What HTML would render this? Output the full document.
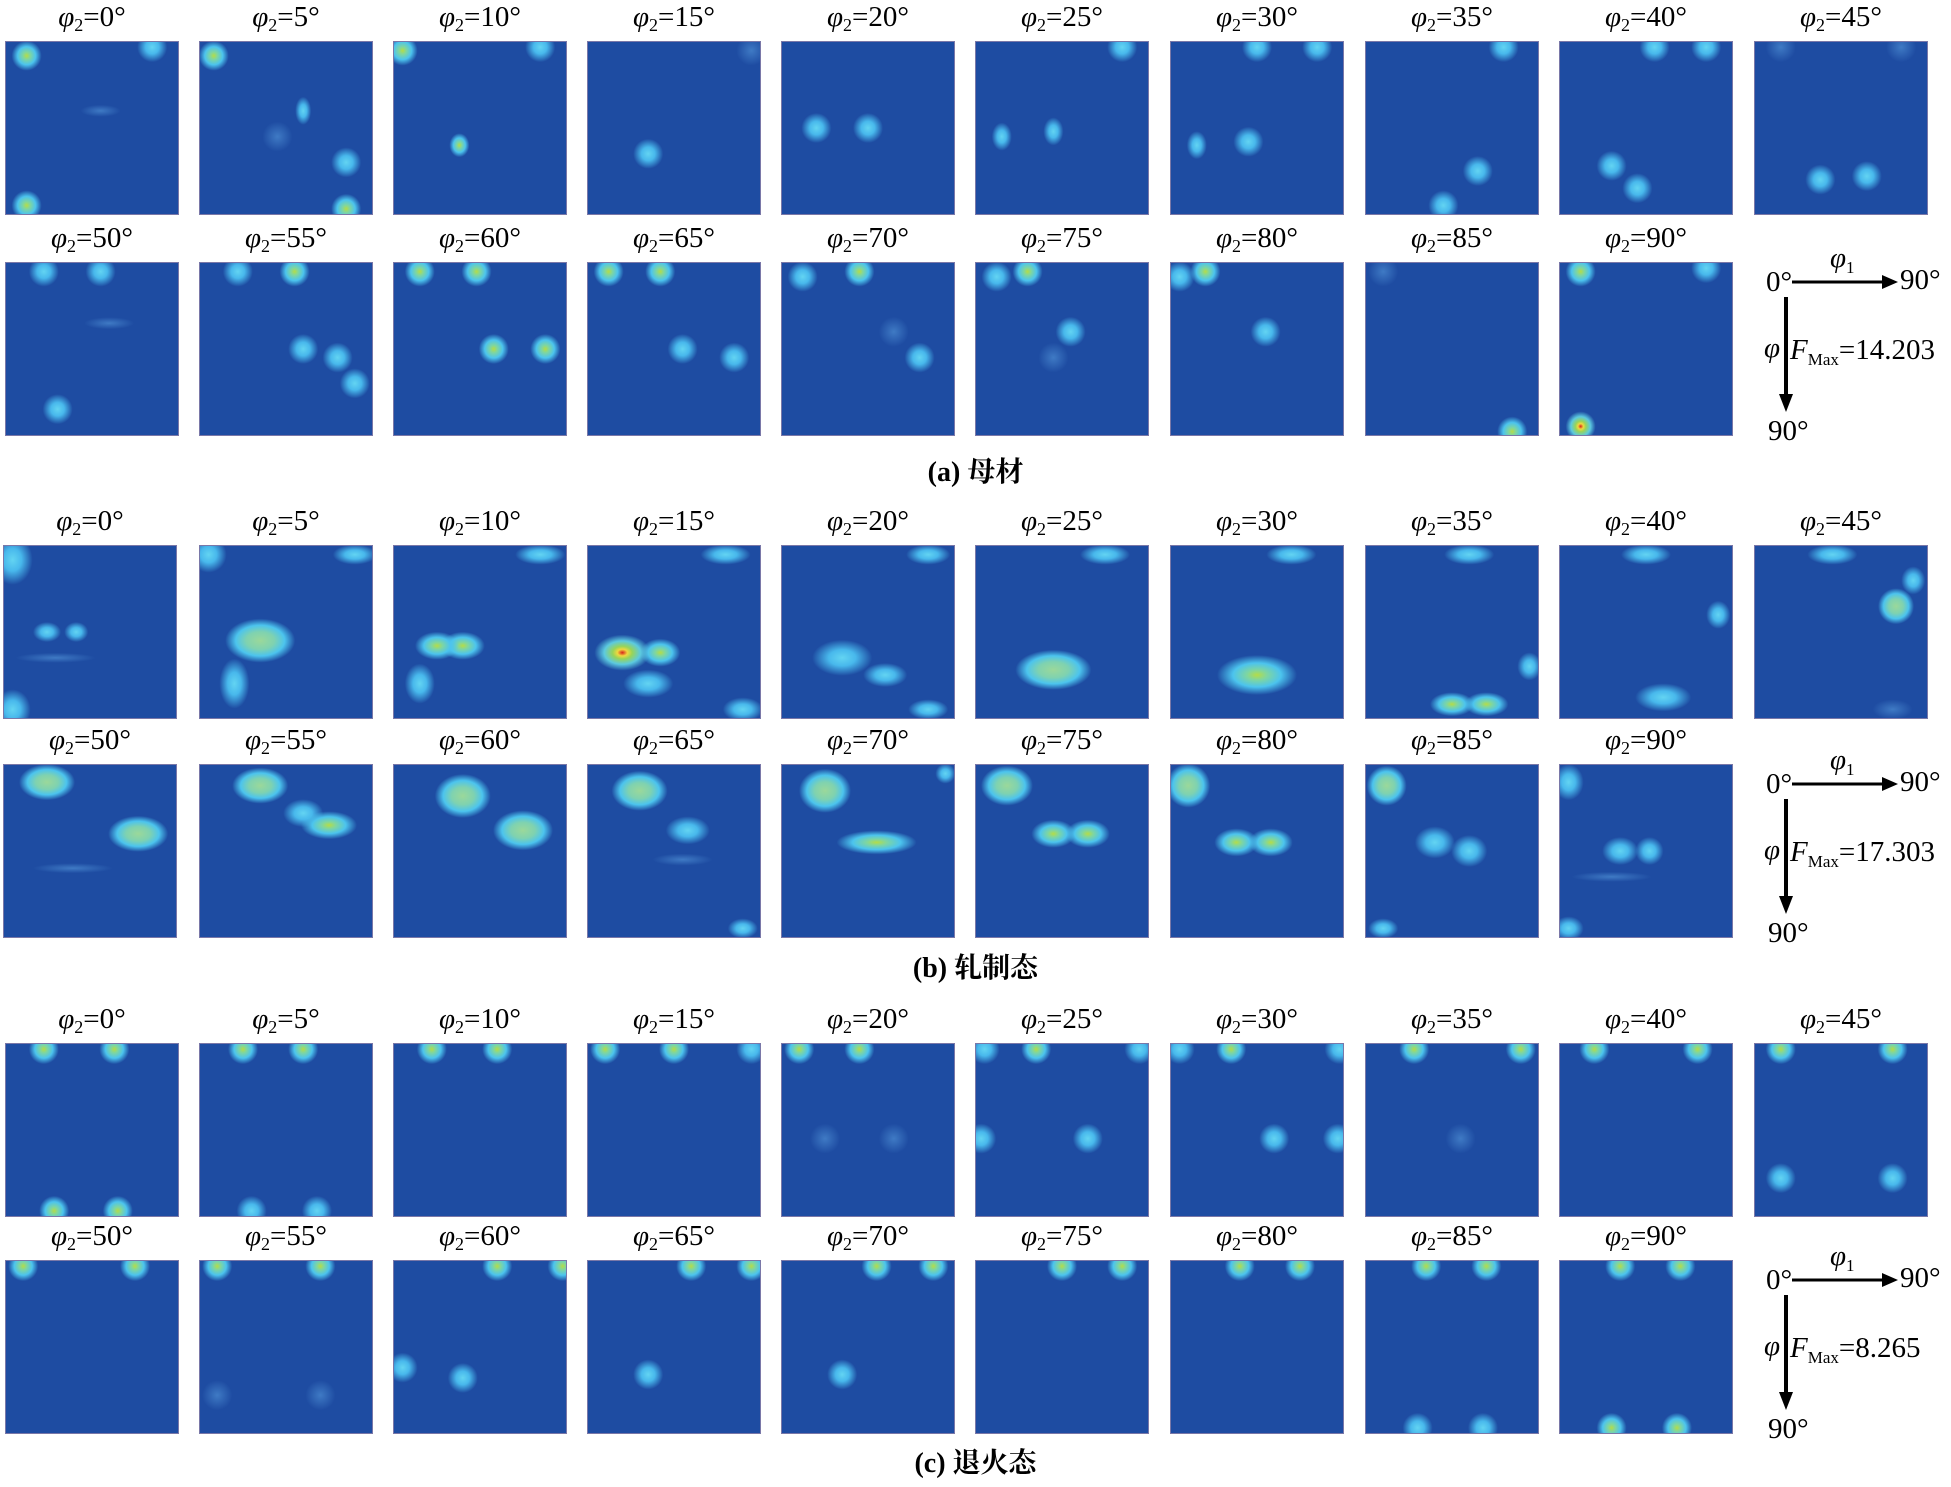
<!DOCTYPE html>
<html><head><meta charset="utf-8">
<style>
body{margin:0;background:#fff;width:1951px;height:1487px;position:relative;overflow:hidden;font-family:"Liberation Serif","Noto Serif CJK SC",serif;}
.b{position:absolute;width:174px;height:174px;background-color:#1e4ca2;border:1px solid #7a78a8;box-sizing:border-box;}
.l{position:absolute;width:194px;text-align:center;font-size:29px;line-height:29px;color:#000;}
.l i{font-style:italic}
.l sub{font-size:18px;vertical-align:-5px;line-height:0}
.c{position:absolute;left:0;width:1951px;text-align:center;font-size:28px;font-weight:bold;}
.t{position:absolute;font-size:29px;line-height:29px;color:#000;white-space:nowrap}
.t sub{font-size:17px;vertical-align:-6px;line-height:0}
</style></head><body>
<div id="root"></div>
<script>
var cols=[5,199,393,587,781,975,1170,1365,1559,1754];
var rows=[[41,262],[545,764],[1043,1260]];
var angles=[0,5,10,15,20,25,30,35,40,45,50,55,60,65,70,75,80,85,90];
function g(x,y,L,rx,ry){
 rx=rx||15;ry=ry||rx;
 var s='ellipse '+rx+'px '+ry+'px at '+x+'% '+y+'%';
 if(L==0)return 'radial-gradient('+s+',rgba(90,160,225,.55) 0%,rgba(30,76,162,0) 100%)';
 if(L==1)return 'radial-gradient('+s+',#63d4f2 0%,#48b8ec 45%,rgba(30,76,162,0) 100%)';
 if(L==2)return 'radial-gradient('+s+',#b4dc48 0%,#7fd6a0 25%,#4cc4ee 60%,rgba(30,76,162,0) 100%)';
 if(L==4)return 'radial-gradient('+s+',#9bd89a 0%,#7fd2b0 40%,#4cc4ee 70%,rgba(30,76,162,0) 100%)';
 return 'radial-gradient('+s+',#d8201c 0%,#f0d840 18%,#98d458 35%,#5ccae0 65%,rgba(30,76,162,0) 100%)';
}
var A=[
[[12,8,2],[12,95,2],[85,3,1],[55,40,0,20,6]],
[[8,8,2],[60,40,1,8,14],[85,70,1],[85,97,2],[45,55,0]],
[[5,5,2],[38,60,2,10,12],[85,3,1]],
[[35,65,1],[95,5,0]],
[[20,50,1],[50,50,1]],
[[15,55,1,10,14],[45,52,1,10,14],[85,3,1]],
[[15,60,1,10,14],[45,58,1],[50,3,1],[85,3,1]],
[[65,75,1],[45,95,1],[80,3,1]],
[[30,72,1],[45,85,1],[55,3,1],[85,3,1]],
[[38,80,1],[65,78,1],[15,3,0],[85,3,0]],
[[22,5,1],[55,5,1],[30,85,1],[60,35,0,25,6]],
[[22,5,1],[55,5,2],[60,50,1],[80,55,1],[90,70,1]],
[[15,5,2],[48,5,2],[58,50,2],[88,50,2]],
[[12,5,2],[42,5,2],[55,50,1],[85,55,1]],
[[12,8,1],[45,5,2],[80,55,1],[65,40,0]],
[[12,8,1],[30,5,2],[55,40,1],[45,55,0]],
[[5,8,1],[20,5,2],[55,40,1]],
[[85,98,2],[10,5,0]],
[[12,5,2],[12,95,3],[85,3,1]]
];
var B=[
[[5,8,1,20,25],[25,50,1,14,10],[42,50,1,12,10],[5,95,1,18,20],[30,65,0,40,5]],
[[35,55,4,35,22],[5,5,1,18,18],[90,5,1,22,10],[20,80,1,15,25]],
[[25,58,2,22,14],[40,58,2,22,14],[85,5,1,25,10],[15,80,1,15,20]],
[[20,62,3,28,18],[42,62,2,20,14],[80,5,1,25,10],[90,95,1,20,12],[35,80,1,25,14]],
[[35,65,1,30,18],[60,75,1,22,12],[85,5,1,22,10],[85,95,1,20,10]],
[[45,72,4,38,20],[75,5,1,25,10]],
[[50,75,2,40,20],[70,5,1,25,10]],
[[50,92,2,22,12],[70,92,2,22,12],[60,5,1,25,10],[95,70,1,12,14]],
[[60,88,1,28,14],[50,5,1,25,10],[92,40,1,12,14]],
[[82,35,4,18,18],[45,5,1,25,10],[92,20,1,12,14],[80,95,0,20,10]],
[[25,10,4,28,18],[78,40,4,30,18],[40,60,0,40,5]],
[[35,12,4,28,18],[75,35,2,28,14],[60,28,1,20,14]],
[[40,18,4,28,22],[75,38,4,30,20]],
[[30,15,4,28,20],[58,38,1,22,14],[90,95,1,15,10],[55,55,0,30,6]],
[[25,15,4,26,22],[55,45,2,40,12],[95,5,1,10,10]],
[[18,12,4,26,20],[45,40,2,22,14],[65,40,2,22,14]],
[[10,12,4,22,22],[38,45,2,22,14],[58,45,2,22,14]],
[[12,12,4,20,20],[40,45,1,20,16],[60,50,1,18,16],[10,95,1,15,10]],
[[5,10,1,15,18],[35,50,1,18,14],[52,50,1,14,14],[5,95,1,15,12],[30,65,0,40,5]]
];
var C=[
[[22,3,2],[63,3,2],[28,97,2],[65,97,2]],
[[25,3,2],[60,3,2],[30,97,1],[68,97,1]],
[[22,3,2],[60,3,2]],
[[10,3,2],[50,3,2],[95,3,1]],
[[10,3,2],[45,3,2],[25,55,0],[65,55,0]],
[[5,3,1],[35,3,2],[95,3,1],[65,55,1],[3,55,1]],
[[5,3,1],[35,3,2],[98,3,1],[60,55,1],[97,55,1]],
[[28,3,2],[90,3,2],[55,55,0]],
[[20,3,2],[80,3,2]],
[[15,3,2],[80,3,2],[15,78,1],[80,78,1]],
[[10,3,2],[75,3,2]],
[[10,3,2],[70,3,2],[10,78,0],[70,78,0]],
[[60,3,2],[98,3,2],[5,62,1],[40,68,1]],
[[60,3,2],[95,3,2],[35,66,1]],
[[55,3,2],[88,3,2],[35,66,1]],
[[50,3,2],[85,3,2]],
[[40,3,2],[75,3,2]],
[[35,3,2],[70,3,2],[30,97,1],[68,97,1]],
[[35,3,2],[70,3,2],[30,97,2],[68,97,2]]
];
var sets=[A,B,C],caps=['(a) 母材','(b) 轧制态','(c) 退火态'],capy=[450,946,1441],fm=['14.203','17.303','8.265'];
var h='';
for(var p=0;p<3;p++){
 for(var k=0;k<19;k++){
  var r=k<10?0:1,c=k%10,x=cols[c],y=rows[p][r];
  if(p==1&&c==0)x=3;
  var bl=sets[p][k].map(function(d){return g(d[0],d[1],d[2],d[3],d[4]);}).join(',');
  h+='<div class="b" style="left:'+x+'px;top:'+y+'px;background-image:'+bl+'"></div>';
  h+='<div class="l" style="left:'+(x-10)+'px;top:'+(y-38)+'px"><i>φ</i><sub>2</sub>='+angles[k]+'°</div>';
 }
 h+='<div class="c" style="top:'+capy[p]+'px">'+caps[p]+'</div>';
 var oy=rows[p][1];
 h+='<div class="t" style="left:1766px;top:'+(oy+6)+'px">0°</div>';
 h+='<div class="t" style="left:1830px;top:'+(oy-18)+'px"><i>φ</i><sub>1</sub></div>';
 h+='<div class="t" style="left:1900px;top:'+(oy+4)+'px">90°</div>';
 h+='<div class="t" style="left:1764px;top:'+(oy+72)+'px"><i>φ</i></div>';
 h+='<div class="t" style="left:1790px;top:'+(oy+74)+'px"><i>F</i><sub>Max</sub>='+fm[p]+'</div>';
 h+='<div class="t" style="left:1768px;top:'+(oy+155)+'px">90°</div>';
 h+='<svg style="position:absolute;left:1776px;top:'+(oy+10)+'px" width="130" height="150"><line x1="16" y1="10" x2="109" y2="10" stroke="#000" stroke-width="3"/><polygon points="106,3 122,10 106,17" fill="#000"/><line x1="10" y1="25" x2="10" y2="128" stroke="#000" stroke-width="4"/><polygon points="3,122 10,140 17,122" fill="#000"/></svg>';
}
document.getElementById('root').innerHTML=h;
</script>
</body></html>
